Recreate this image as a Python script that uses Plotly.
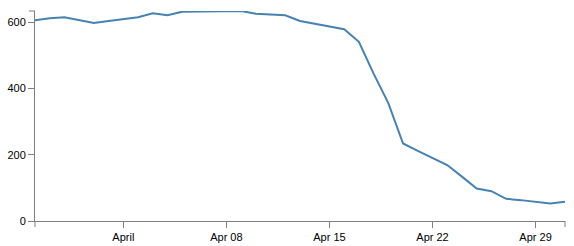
import plotly.graph_objects as go
import pandas as pd

dates = pd.date_range("2012-03-26", "2012-05-01", freq="D").strftime("%Y-%m-%d").tolist()
values = [606, 612, 615, 606, 598, 604, 609, 615, 627, 621,
          632, 632, 633, 633, 634, 626, 624, 621, 604, 596,
          587, 579, 541, 445, 356, 234, 212, 191, 169, 134,
          98, 90, 67, 63, 58, 53, 58]

tick_vals = ["2012-04-01", "2012-04-08", "2012-04-15", "2012-04-22", "2012-04-29"]
tick_text = ["April", "Apr 08", "Apr 15", "Apr 22", "Apr 29"]
y_ticks = [0, 200, 400, 600]

axis_color = "#7f7f7f"
font = dict(family="Liberation Sans, Arial, sans-serif", size=11, color="#000")

fig = go.Figure(go.Scatter(x=dates, y=values, mode="lines",
                           line=dict(color="#4682b4", width=2), hoverinfo="skip"))

fig.update_layout(
    width=574, height=246,
    margin=dict(l=35, r=9, t=11, b=25),
    paper_bgcolor="white", plot_bgcolor="white",
    showlegend=False, font=font,
    xaxis=dict(range=[dates[0], dates[-1]], tickvals=tick_vals, ticktext=tick_text,
               showgrid=False, zeroline=False, showline=True, linecolor=axis_color,
               linewidth=1, ticks="outside", ticklen=6, tickcolor=axis_color, tickfont=font,
               automargin=False),
    yaxis=dict(range=[0, max(values)], tickvals=y_ticks,
               showgrid=False, zeroline=False, showline=True, linecolor=axis_color,
               linewidth=1, ticks="outside", ticklen=6, tickcolor=axis_color, tickfont=font,
               automargin=False),
    shapes=[
        dict(type="line", xref="paper", yref="paper", x0=0, x1=0, y0=0, y1=-6,
             ysizemode="pixel", yanchor=0, line=dict(color=axis_color, width=1)),
        dict(type="line", xref="paper", yref="paper", x0=1, x1=1, y0=0, y1=-6,
             ysizemode="pixel", yanchor=0, line=dict(color=axis_color, width=1)),
        dict(type="line", xref="paper", yref="paper", x0=0, x1=-6, y0=1, y1=1,
             xsizemode="pixel", xanchor=0, line=dict(color=axis_color, width=1)),
    ],
)

fig.write_html("out.html", config={"displayModeBar": False})
